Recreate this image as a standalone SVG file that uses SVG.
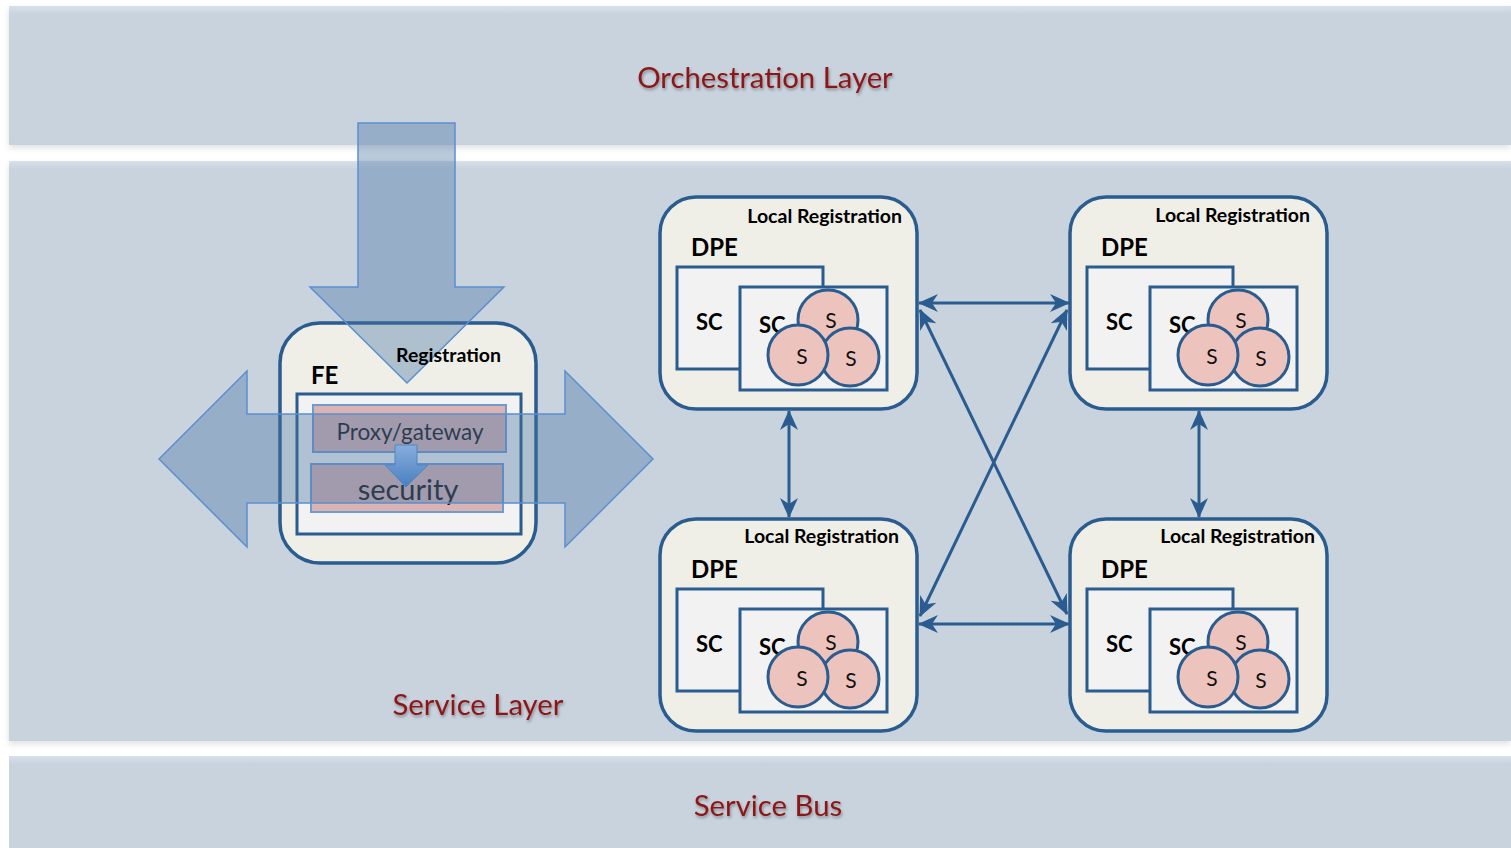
<svg xmlns="http://www.w3.org/2000/svg" width="1511" height="848" viewBox="0 0 1511 848">
<defs>
<style>
.band{fill:#c9d3de}
.bandTop{fill:url(#bandGrad)}
.title{font-family:Lato,"Liberation Sans",sans-serif;font-size:29.3px;fill:#8c1616;filter:url(#tshadow)}
.node{fill:#efefe8;stroke:#2a5c8f;stroke-width:3.5}
.inner{fill:#f2f2f2;stroke:#2a5c8f;stroke-width:3}
.circ{fill:#ecc3bd;stroke:#2a5c8f;stroke-width:3}
.bold{font-family:Lato,"Liberation Sans",sans-serif;font-weight:bold;fill:#000}
.lr{font-size:19.5px;text-anchor:end}
.dpe{font-size:24px}
.sc{font-size:22px}
.s{font-family:Lato,"Liberation Sans",sans-serif;font-size:21px;fill:#111;text-anchor:middle}
.pbox{fill:#dcb3b3;stroke:#6b9dd3;stroke-width:2}
.big{fill:rgb(72,116,165);fill-opacity:0.39;stroke:#5b8fd0;stroke-width:1.5}
.conn{stroke:#2a5c8f;stroke-width:3;fill:none;marker-start:url(#ah);marker-end:url(#ah)}
</style>
<linearGradient id="bandGrad" x1="0" y1="0" x2="0" y2="1">
<stop offset="0" stop-color="#d8e0ea"/>
<stop offset="1" stop-color="#c9d3de"/>
</linearGradient>
<linearGradient id="smallGrad" x1="0" y1="0" x2="0" y2="1">
<stop offset="0" stop-color="#86aedc"/>
<stop offset="1" stop-color="#4a7fc0"/>
</linearGradient>
<filter id="bshadow" x="-5%" y="-20%" width="110%" height="140%">
<feDropShadow dx="0" dy="3" stdDeviation="3" flood-color="#000" flood-opacity="0.12"/>
</filter>
<filter id="tshadow" x="-10%" y="-30%" width="120%" height="160%">
<feDropShadow dx="1" dy="2" stdDeviation="1.5" flood-color="#000" flood-opacity="0.35"/>
</filter>
<marker id="ah" viewBox="0 0 20 20" markerWidth="20" markerHeight="20" refX="19" refY="10" orient="auto-start-reverse" markerUnits="userSpaceOnUse">
<path d="M0,1 L20,10 L0,19 L6,10 z" fill="#2a5c8f"/>
</marker>
</defs>

<rect x="0" y="0" width="1511" height="848" fill="#ffffff"/>

<g id="orchestration-layer">
<rect class="band" x="9" y="6" width="1502" height="139" filter="url(#bshadow)"/>
<rect class="bandTop" x="9" y="6" width="1502" height="8"/>
<text class="title" x="765" y="88" text-anchor="middle">Orchestration Layer</text>
</g>

<g id="service-layer">
<rect class="band" x="9" y="161" width="1502" height="580" filter="url(#bshadow)"/>
<rect class="bandTop" x="9" y="161" width="1502" height="8"/>
<text class="title" x="478" y="715" text-anchor="middle">Service Layer</text>
</g>

<g id="service-bus">
<rect class="band" x="9" y="756" width="1502" height="92"/>
<rect class="bandTop" x="9" y="756" width="1502" height="8"/>
<text class="title" x="768" y="816" text-anchor="middle">Service Bus</text>
</g>

<g id="fe">
<rect class="node" x="280" y="323" width="256" height="240" rx="40"/>
<text class="bold dpe" x="311" y="384">FE</text>
<rect class="inner" x="297" y="394" width="224" height="140"/>
<rect class="pbox" x="313" y="405" width="193" height="47"/>
<text x="410" y="440" text-anchor="middle" font-family="Lato,'Liberation Sans',sans-serif" font-size="22.5" fill="#1a1a1a">Proxy/gateway</text>
<rect class="pbox" x="311" y="464" width="192" height="48"/>
<text x="408" y="500" text-anchor="middle" font-family="Lato,'Liberation Sans',sans-serif" font-size="29" fill="#1a1a1a">security</text>
</g>

<g id="registration-arrow">
<polygon class="big" points="358,123 455,123 455,287 504,287 407,383 310,287 358,287"/>
<text class="bold" x="396" y="362" font-size="19.5">Registration</text>
</g>

<g id="bidirectional-arrow">
<polygon class="big" points="159,459 247,371 247,414 565,414 565,371 653,459 565,547 565,503 247,503 247,547"/>
</g>

<g id="proxy-to-security-arrow">
<polygon points="395,445 417,445 417,465 428,465 406,487 385,465 395,465" fill="url(#smallGrad)" stroke="#4f86c6" stroke-width="1"/>
</g>

<g id="dpe-top-left">
<rect class="node" x="660" y="197" width="257" height="212" rx="36"/>
<text class="bold lr" x="902" y="223">Local Registration</text>
<text class="bold dpe" x="691" y="256">DPE</text>
<rect class="inner" x="677" y="267" width="146" height="102"/>
<text class="bold sc" x="696" y="330">SC</text>
<rect class="inner" x="740" y="287" width="147" height="103"/>
<text class="bold sc" x="759" y="333">SC</text>
<circle class="circ" cx="828" cy="320" r="30"/>
<text class="s" x="831" y="328">S</text>
<circle class="circ" cx="850" cy="357" r="29"/>
<text class="s" x="851" y="366">S</text>
<circle class="circ" cx="798" cy="355" r="30"/>
<text class="s" x="802" y="364">S</text>
</g>

<g id="dpe-top-right" transform="translate(410,0)">
<rect class="node" x="660" y="197" width="257" height="212" rx="36"/>
<text class="bold lr" x="900" y="222">Local Registration</text>
<text class="bold dpe" x="691" y="256">DPE</text>
<rect class="inner" x="677" y="267" width="146" height="102"/>
<text class="bold sc" x="696" y="330">SC</text>
<rect class="inner" x="740" y="287" width="147" height="103"/>
<text class="bold sc" x="759" y="333">SC</text>
<circle class="circ" cx="828" cy="320" r="30"/>
<text class="s" x="831" y="328">S</text>
<circle class="circ" cx="850" cy="357" r="29"/>
<text class="s" x="851" y="366">S</text>
<circle class="circ" cx="798" cy="355" r="30"/>
<text class="s" x="802" y="364">S</text>
</g>

<g id="dpe-bottom-left" transform="translate(0,322)">
<rect class="node" x="660" y="197" width="257" height="212" rx="36"/>
<text class="bold lr" x="899" y="221">Local Registration</text>
<text class="bold dpe" x="691" y="256">DPE</text>
<rect class="inner" x="677" y="267" width="146" height="102"/>
<text class="bold sc" x="696" y="330">SC</text>
<rect class="inner" x="740" y="287" width="147" height="103"/>
<text class="bold sc" x="759" y="333">SC</text>
<circle class="circ" cx="828" cy="320" r="30"/>
<text class="s" x="831" y="328">S</text>
<circle class="circ" cx="850" cy="357" r="29"/>
<text class="s" x="851" y="366">S</text>
<circle class="circ" cx="798" cy="355" r="30"/>
<text class="s" x="802" y="364">S</text>
</g>

<g id="dpe-bottom-right" transform="translate(410,322)">
<rect class="node" x="660" y="197" width="257" height="212" rx="36"/>
<text class="bold lr" x="905" y="221">Local Registration</text>
<text class="bold dpe" x="691" y="256">DPE</text>
<rect class="inner" x="677" y="267" width="146" height="102"/>
<text class="bold sc" x="696" y="330">SC</text>
<rect class="inner" x="740" y="287" width="147" height="103"/>
<text class="bold sc" x="759" y="333">SC</text>
<circle class="circ" cx="828" cy="320" r="30"/>
<text class="s" x="831" y="328">S</text>
<circle class="circ" cx="850" cy="357" r="29"/>
<text class="s" x="851" y="366">S</text>
<circle class="circ" cx="798" cy="355" r="30"/>
<text class="s" x="802" y="364">S</text>
</g>

<g id="connectors">
<line class="conn" x1="919" y1="303" x2="1069" y2="303"/>
<line class="conn" x1="919" y1="624" x2="1069" y2="624"/>
<line class="conn" x1="920" y1="310" x2="1067" y2="614"/>
<line class="conn" x1="1067" y1="310" x2="920" y2="616"/>
<line class="conn" x1="789" y1="411" x2="789" y2="517"/>
<line class="conn" x1="1199" y1="411" x2="1199" y2="517"/>
</g>
</svg>
